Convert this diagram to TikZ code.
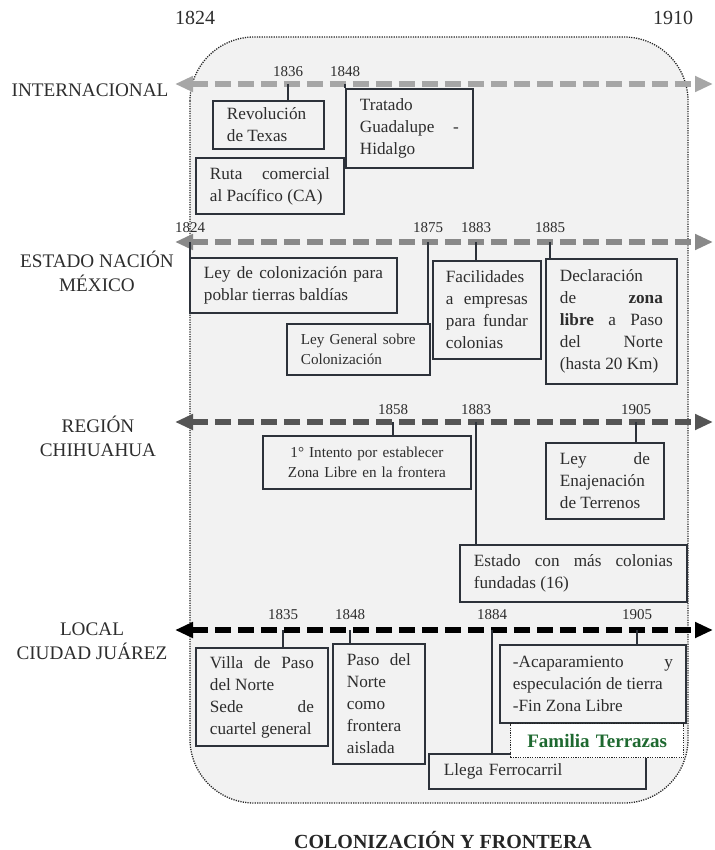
\documentclass[tikz,border=0pt]{standalone}
\usepackage{fontspec}
\setmainfont{Liberation Serif}
\usetikzlibrary{arrows.meta}
\definecolor{fondo}{RGB}{242,242,242}
\definecolor{borde}{RGB}{45,50,58}
\definecolor{texto}{RGB}{45,45,45}
\definecolor{gris1}{RGB}{166,166,166}
\definecolor{gris2}{RGB}{137,137,137}
\definecolor{gris3}{RGB}{85,85,85}
\definecolor{verde}{RGB}{30,105,48}
\tikzset{
    caja/.style={draw=borde,line width=0.9pt,fill=fondo,text=texto,anchor=north west,
        align=justify,inner xsep=7pt,inner ysep=2pt,font=\fontsize{8.6}{11}\selectfont},
    chica/.style={font=\fontsize{7.6}{9.8}\selectfont},
    anio/.style={text=texto,inner sep=0pt,font=\fontsize{7.5}{9}\selectfont},
    nivel/.style={text=texto,align=center,font=\fontsize{9.6}{12}\selectfont},
    marca/.style={draw=borde,line width=0.7pt},
    linea/.style={line width=3pt,dash pattern=on 8pt off 3.5pt,<->,
        >={Triangle[length=9pt,width=7.5pt]}},
    punteado/.style={dash pattern=on 0.6pt off 0.6pt,line width=0.65pt,draw=black!85},
}
\begin{document}
\begin{tikzpicture}[x=0.5pt,y=-0.5pt]
\useasboundingbox (0,0) rectangle (714,850);
\filldraw[punteado,fill=fondo,rounded corners=32pt] (190,37) rectangle (688,803);

\node[anio,font=\fontsize{10}{12}\selectfont] (ini) at (195,18) {1824};
\node[anio,font=\fontsize{10}{12}\selectfont] (fin) at (673,18) {1910};

\coordinate (iI) at (175,84);  \coordinate (fI) at (713,84);
\coordinate (iE) at (175,242); \coordinate (fE) at (713,242);
\coordinate (iR) at (175,422); \coordinate (fR) at (713,422);
\coordinate (iL) at (175,630); \coordinate (fL) at (713,630);
\draw[linea,gris1] (iI) -- (fI);
\draw[linea,gris2] (iE) -- (fE);
\draw[linea,gris3] (iR) -- (fR);
\draw[linea,black] (iL) -- (fL);

\node[nivel] (int) at (90,90) {INTERNACIONAL};
\node[nivel] (est) at (97,271) {ESTADO NACIÓN\\MÉXICO};
\node[nivel] (reg) at (98,436) {REGIÓN\\CHIHUAHUA};
\node[nivel] (loc) at (92,641) {LOCAL\\CIUDAD JUÁREZ};

% internacional
\node[caja,text width=41.5pt,minimum height=24pt] (rev) at (212,100) {Revolución\\de Texas};
\node[caja,text width=60pt,minimum height=28pt] (ruta) at (195,157) {Ruta comercial\linebreak al Pacífico (CA)};
\node[caja,text width=49.5pt,minimum height=39.5pt] (trat) at (345,88) {Tratado\\Guadalupe -\linebreak Hidalgo};
\node[anio] (a1836) at (288,72) {1836};
\node[anio] (a1848) at (345,72) {1848};
\draw[marca] (a1836 |- iI) -- (a1836 |- rev.north);
\draw[marca] (a1848 |- iI) -- (a1848 |- trat.north);

% estado nacion
\node[caja,text width=89.5pt,minimum height=27.5pt] (leycol) at (189,257) {Ley de colonización para\linebreak poblar tierras baldías};
\node[caja,chica,align=left,text width=57.5pt,minimum height=25.5pt] (leygen) at (286,323) {Ley General sobre\\Colonización};
\node[caja,inner xsep=6.5pt,text width=41pt,minimum height=49pt] (fac) at (432,260) {Facilidades\\a empresas\linebreak para fundar\linebreak colonias};
\node[caja,text width=51.5pt,minimum height=62.5pt] (decl) at (545,258) {Declaración\\de \textbf{zona}\linebreak \textbf{libre} a Paso\linebreak del Norte\linebreak (hasta 20 Km)};
\node[anio] (e1824) at (190,228) {1824};
\node[anio] (e1875) at (428,228) {1875};
\node[anio] (e1883) at (476,228) {1883};
\node[anio] (e1885) at (550,228) {1885};
\draw[marca] (e1824 |- iE) -- (e1824 |- leycol.north);
\draw[marca] (e1875 |- iE) -- (e1875 |- leygen.north);
\draw[marca] (e1883 |- iE) -- (e1883 |- fac.north);
\draw[marca] (e1885 |- iE) -- (e1885 |- decl.north);

% region
\node[caja,chica,align=center,text width=90pt,minimum height=26.5pt] (intento) at (262,435) {1° Intento por establecer\\Zona Libre en la frontera};
\node[caja,text width=45pt,minimum height=38pt] (enaj) at (545,442) {Ley de\linebreak Enajenación\\de Terrenos};
\node[caja,text width=99.5pt,minimum height=28.5pt] (estado) at (459,544) {Estado con más colonias\linebreak fundadas (16)};
\node[anio] (r1858) at (393,410) {1858};
\node[anio] (r1883) at (476,410) {1883};
\node[anio] (r1905) at (636,410) {1905};
\draw[marca] (r1858 |- iR) -- (r1858 |- intento.north);
\draw[marca] (r1883 |- iR) -- (r1883 |- estado.north);
\draw[marca] (r1905 |- iR) -- (r1905 |- enaj.north);

% local
\node[caja,text width=52pt,minimum height=49pt] (villa) at (195,647) {Villa de Paso\linebreak del Norte\\Sede de\linebreak cuartel general};
\node[caja,text width=32pt,minimum height=60pt] (paso) at (332,643) {Paso del\linebreak Norte\\como\\frontera\\aislada};
\node[caja,align=left,inner xsep=7.5pt,text width=93.5pt,minimum height=17.5pt] (llega) at (428,753) {Llega Ferrocarril};
\node[caja,inner xsep=6.5pt,text width=80pt,minimum height=39pt] (acap) at (499,644) {-Acaparamiento y\linebreak especulación de tierra\\-Fin Zona Libre};
\node[caja,punteado,fill=white,align=center,text=verde,text width=72.5pt,minimum height=17pt,
    font=\bfseries\fontsize{9.5}{11}\selectfont] (fam) at (510,723) {Familia Terrazas};
\node[anio] (l1835) at (283,615) {1835};
\node[anio] (l1848) at (350,615) {1848};
\node[anio] (l1884) at (492,615) {1884};
\node[anio] (l1905) at (637,615) {1905};
\draw[marca] (l1835 |- iL) -- (l1835 |- villa.north);
\draw[marca] (l1848 |- iL) -- (l1848 |- paso.north);
\draw[marca] (l1884 |- iL) -- (l1884 |- llega.north);
\draw[marca] (l1905 |- iL) -- (l1905 |- acap.north);

\node[text=black!85,font=\bfseries\fontsize{10}{12}\selectfont] (titulo) at (443,840) {COLONIZACIÓN Y FRONTERA};
\end{tikzpicture}
\end{document}
